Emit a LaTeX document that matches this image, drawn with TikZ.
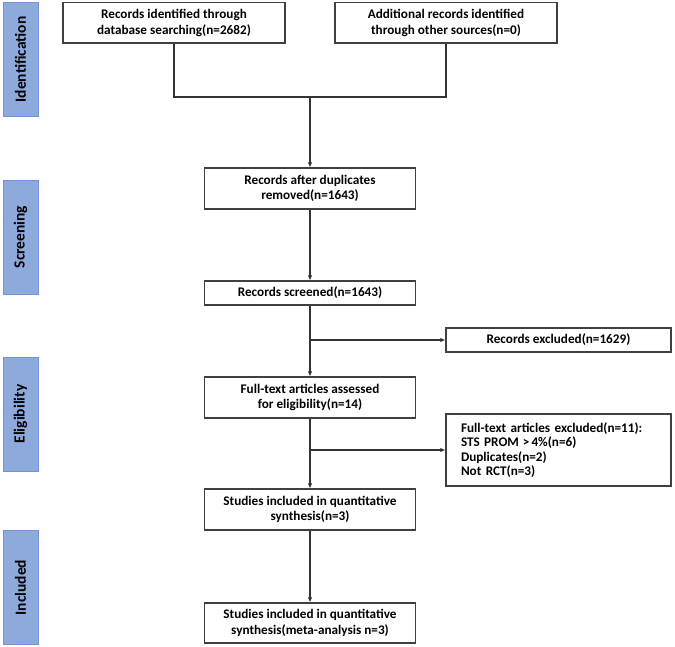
\documentclass[tikz,border=0pt]{standalone}
\usepackage{fontspec}
\setmainfont{Carlito}
\usetikzlibrary{arrows.meta}
\definecolor{linegray}{HTML}{333333}
\definecolor{boxgray}{HTML}{404040}
\definecolor{barfill}{HTML}{8EA9DB}
\definecolor{barline}{HTML}{6F93D6}
\tikzset{
  flowbox/.style={draw=boxgray, line width=1.2pt, fill=white, align=center,
    font=\fontsize{13.2}{15.5}\selectfont\bfseries, inner sep=0pt, anchor=center},
  sidebar/.style={draw=barline, line width=0.8pt, fill=barfill, minimum width=35pt,
    inner sep=0pt, font=\fontsize{15.5}{18}\selectfont\bfseries, anchor=center},
  conn/.style={draw=linegray, line width=1.1pt},
  arr/.style={conn, -{Latex[length=5pt,width=4.5pt]}}
}
\begin{document}
\begin{tikzpicture}[x=1pt,y=-1pt]
\useasboundingbox (0,0) rectangle (675,646);
% side bars
\node[sidebar, minimum height=114pt] (sb1) at (20.5,59.5) {\rotatebox{90}{Identification}};
\node[sidebar, minimum height=114pt] (sb2) at (20.5,237) {\rotatebox{90}{Screening}};
\node[sidebar, minimum height=114pt] (sb3) at (20.5,414) {\rotatebox{90}{Eligibility}};
\node[sidebar, minimum height=114pt] (sb4) at (20.5,587.5) {\rotatebox{90}{Included}};
% boxes
\node[flowbox, minimum width=222pt, minimum height=40.5pt] (b1) at (174,22.75) {Records identified through\\database searching(n=2682)};
\node[flowbox, minimum width=222pt, minimum height=40.5pt] (b2) at (446,22.75) {Additional records identified\\through other sources(n=0)};
\node[flowbox, minimum width=211pt, minimum height=41pt] (b3) at (310,188.5) {Records after duplicates\\removed(n=1643)};
\node[flowbox, minimum width=211pt, minimum height=24pt] (b4) at (310,293) {Records screened(n=1643)};
\node[flowbox, minimum width=211pt, minimum height=41pt] (b5) at (310,397.5) {Full-text articles assessed\\for eligibility(n=14)};
\node[flowbox, minimum width=211pt, minimum height=41pt] (b6) at (310,509.5) {Studies included in quantitative\\synthesis(n=3)};
\node[flowbox, minimum width=211pt, minimum height=40pt] (b7) at (310,623) {Studies included in quantitative\\synthesis(meta-analysis n=3)};
\node[flowbox, minimum width=225pt, minimum height=24pt] (e1) at (558.5,340) {Records excluded(n=1629)};
\node[flowbox, minimum width=225pt, minimum height=72pt, align=left, text width=195pt,
  font=\fontsize{13.2}{14.2}\selectfont\bfseries] (e2) at (558.5,450) {Full-text articles excluded(n=11):\\STS PROM\hspace{0.3em}>\hspace{0.15em}4\%(n=6)\\Duplicates(n=2)\\Not RCT(n=3)};
% connectors
\coordinate (j) at (310,97);
\coordinate (c1) at (310,340);
\coordinate (c2) at (310,450);
\draw[conn] (b1.south) |- (j) -| (b2.south);
\draw[arr] (j) -- (b3.north);
\draw[arr] (b3) -- (b4);
\draw[arr] (b4) -- (b5);
\draw[arr] (c1) -- (e1.west);
\draw[arr] (b5) -- (b6);
\draw[arr] (c2) -- (e2.west);
\draw[arr] (b6) -- (b7);
\end{tikzpicture}
\end{document}
